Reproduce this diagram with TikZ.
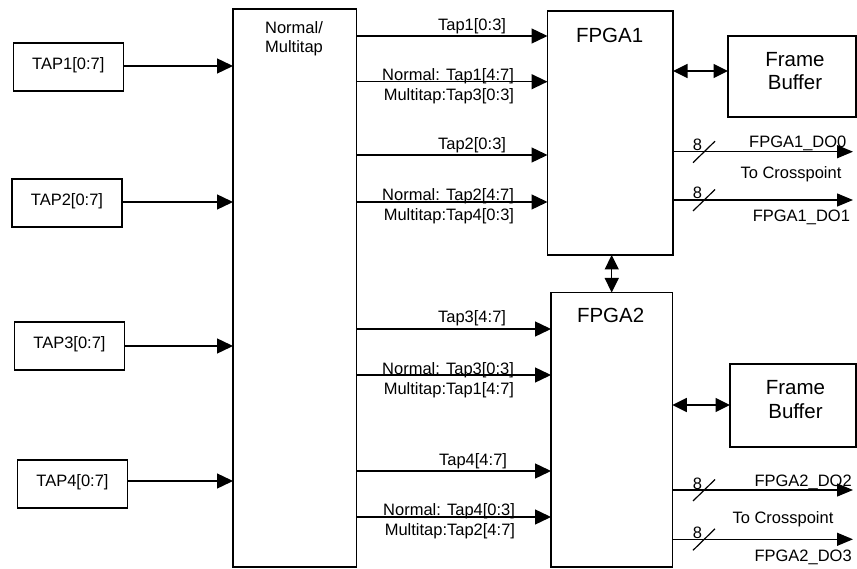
\documentclass[tikz,border=0pt]{standalone}
\usepackage{fontspec}
\setmainfont{Liberation Sans}
\usetikzlibrary{arrows.meta}
\begin{document}
\begin{tikzpicture}[x=1pt,y=-1pt,
  box/.style={draw, line width=1.4pt, inner sep=0pt, outer sep=0pt},
  tapbox/.style={box, minimum height=48pt, font=\fontsize{16.5}{20}\selectfont, text height=11.8pt, text depth=6.5pt},
  txt/.style={font=\fontsize{16.5}{20}\selectfont, inner sep=0pt, outer sep=0pt},
  big/.style={font=\fontsize{20.5}{24}\selectfont, inner sep=0pt, outer sep=0pt},
  arr/.style={line width=1.4pt, -{Triangle[length=16pt,width=15pt]}},
  darr/.style={line width=1.4pt, {Triangle[length=14.5pt,width=14pt]}-{Triangle[length=14.5pt,width=14pt]}},
  busarr/.style={line width=1.4pt, -{Triangle[length=16pt,width=13pt]}},
  slash/.style={line width=1.2pt}]
\useasboundingbox (0,0) rectangle (857,569);

% input boxes
\node[tapbox, minimum width=110pt] (tap1) at (68.3,67) {TAP1[0:7]};
\node[tapbox, minimum width=110pt] (tap2) at (67,203) {TAP2[0:7]};
\node[tapbox, minimum width=109.6pt] (tap3) at (69.5,346) {TAP3[0:7]};
\node[tapbox, minimum width=110.4pt] (tap4) at (72.5,484) {TAP4[0:7]};

% main mux block
\node[box, minimum width=123.7pt, minimum height=558pt] (main) at (294.85,288) {};
\node[txt, anchor=base] (mt1) at (294,33.3) {Normal/};
\node[txt, anchor=base] (mt2) at (294,53) {Multitap};

% FPGAs
\node[box, minimum width=125.5pt, minimum height=244pt] (fpga1) at (610.25,133) {};
\node[big, anchor=base west] (f1t) at (576,42.7) {FPGA1};
\node[box, minimum width=121.3pt, minimum height=274.5pt] (fpga2) at (611.65,429.75) {};
\node[big, anchor=base west] (f2t) at (577,323) {FPGA2};

% frame buffers
\node[box, minimum width=128pt, minimum height=81pt] (fb1) at (792,76.5) {};
\node[big, anchor=base] (fb1a) at (795,66.7) {Frame};
\node[big, anchor=base] (fb1b) at (795,90) {Buffer};
\node[box, minimum width=126pt, minimum height=83pt] (fb2) at (793,405.5) {};
\node[big, anchor=base] (fb2a) at (795.5,395) {Frame};
\node[big, anchor=base] (fb2b) at (795.5,418) {Buffer};

% inputs to mux
\draw[arr] (tap1.east |- 0,66) -- (main.west |- 0,66);
\draw[arr] (tap2.east |- 0,202) -- (main.west |- 0,202);
\draw[arr] (tap3.east |- 0,346) -- (main.west |- 0,346);
\draw[arr] (tap4.east |- 0,481) -- (main.west |- 0,481);

% mux to FPGA1
\draw[arr] (main.east |- 0,36) -- (fpga1.west |- 0,36);
\draw[arr] (main.east |- 0,81.7) -- (fpga1.west |- 0,81.7);
\draw[arr] (main.east |- 0,155) -- (fpga1.west |- 0,155);
\draw[arr] (main.east |- 0,202) -- (fpga1.west |- 0,202);
\node[txt, anchor=base east] (l1) at (506,30.5) {Tap1[0:3]};
\node[txt, anchor=base east] (l2a) at (514,81) {Normal: Tap1[4:7]};
\node[txt, anchor=base east] (l2b) at (514,100.5) {Multitap:Tap3[0:3]};
\node[txt, anchor=base east] (l3) at (506,150) {Tap2[0:3]};
\node[txt, anchor=base east] (l4a) at (514,201) {Normal: Tap2[4:7]};
\node[txt, anchor=base east] (l4b) at (514,220.5) {Multitap:Tap4[0:3]};

% mux to FPGA2
\draw[arr] (main.east |- 0,329) -- (fpga2.west |- 0,329);
\draw[arr] (main.east |- 0,375) -- (fpga2.west |- 0,375);
\draw[arr] (main.east |- 0,471) -- (fpga2.west |- 0,471);
\draw[arr] (main.east |- 0,517) -- (fpga2.west |- 0,517);
\node[txt, anchor=base east] (l5) at (506,322.5) {Tap3[4:7]};
\node[txt, anchor=base east] (l6a) at (514,374) {Normal: Tap3[0:3]};
\node[txt, anchor=base east] (l6b) at (514,394.5) {Multitap:Tap1[4:7]};
\node[txt, anchor=base east] (l7) at (507,465) {Tap4[4:7]};
\node[txt, anchor=base east] (l8a) at (515,515.7) {Normal: Tap4[0:3]};
\node[txt, anchor=base east] (l8b) at (515,535.7) {Multitap:Tap2[4:7]};

% FPGA <-> frame buffers, FPGA <-> FPGA
\draw[darr] (fpga1.east |- 0,71) -- (fb1.west |- 0,71);
\draw[darr] (fpga2.east |- 0,405) -- (fb2.west |- 0,405);
\draw[darr] (fpga1.south -| 611.7,0) -- (fpga2.north -| 611.7,0);

% outputs
\coordinate (do0) at (853,151.7);
\coordinate (do1) at (853,200);
\coordinate (do2) at (853,490);
\coordinate (do3) at (853,539.3);
\draw[busarr] (fpga1.east |- do0) -- (do0);
\draw[busarr] (fpga1.east |- do1) -- (do1);
\draw[busarr] (fpga2.east |- do2) -- (do2);
\draw[busarr] (fpga2.east |- do3) -- (do3);
\draw[slash] (693,162.7) -- (715,141.2);
\draw[slash] (693,211) -- (715,189.5);
\draw[slash] (693,501) -- (715,479.5);
\draw[slash] (693,550.3) -- (715,528.8);
\node[txt, anchor=base] (n1) at (697.5,150.5) {8};
\node[txt, anchor=base] (n2) at (697.5,199) {8};
\node[txt, anchor=base] (n3) at (697.5,489) {8};
\node[txt, anchor=base] (n4) at (697.5,538.3) {8};

\node[txt, anchor=base] (o0) at (797.8,147.3) {FPGA1\_DO0};
\node[txt, anchor=base] (c1) at (791,178.3) {To Crosspoint};
\node[txt, anchor=base east] (o1) at (850,221.7) {FPGA1\_DO1};
\node[txt, anchor=base east] (o2) at (851.7,486) {FPGA2\_DO2};
\node[txt, anchor=base] (c2) at (783,523) {To Crosspoint};
\node[txt, anchor=base east] (o3) at (851.7,561.7) {FPGA2\_DO3};
\end{tikzpicture}
\end{document}
